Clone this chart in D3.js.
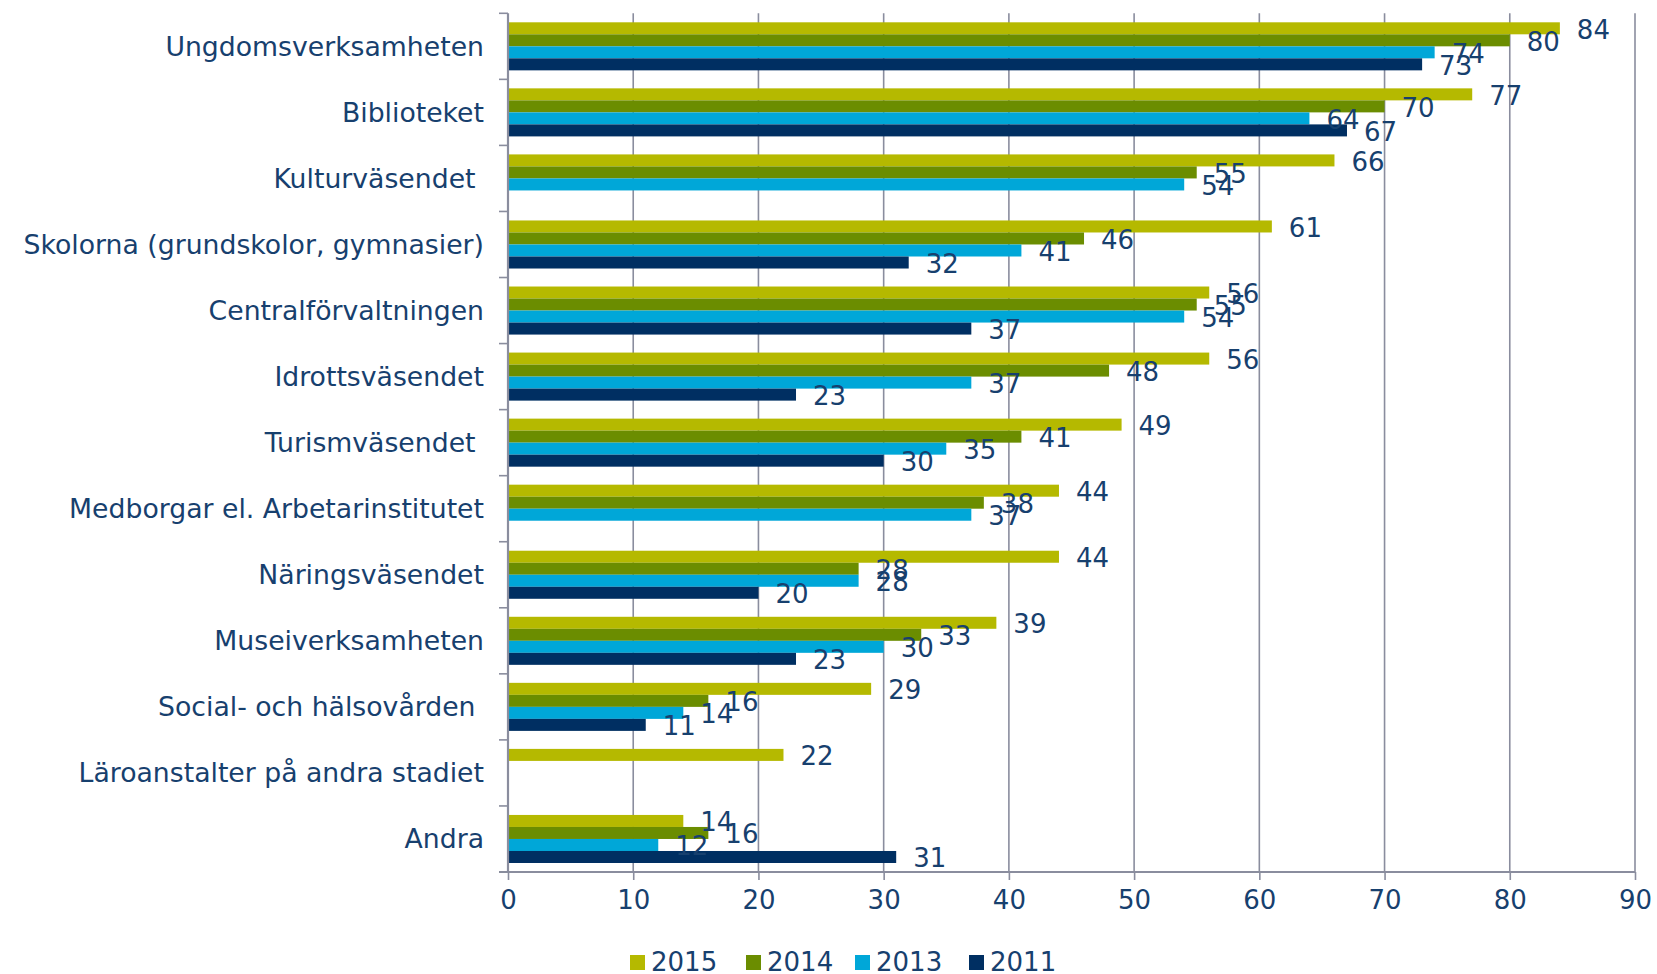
<!DOCTYPE html>
<html>
<head>
<meta charset="utf-8">
<script src="https://cdn.jsdelivr.net/npm/d3@7/dist/d3.min.js"></script>
<style>
  html, body { margin: 0; padding: 0; background: #ffffff; }
  svg { display: block; }
  text { font-family: "DejaVu Sans", Verdana, sans-serif; fill: #17406e; }
</style>
</head>
<body>
<svg id="chart" width="1657" height="974"></svg>
<script>
const categories = [
  "Ungdomsverksamheten",
  "Biblioteket",
  "Kulturväsendet ",
  "Skolorna (grundskolor, gymnasier)",
  "Centralförvaltningen",
  "Idrottsväsendet",
  "Turismväsendet ",
  "Medborgar el. Arbetarinstitutet",
  "Näringsväsendet",
  "Museiverksamheten",
  "Social- och hälsovården ",
  "Läroanstalter på andra stadiet",
  "Andra"
];
const years = ["2015", "2014", "2013", "2011"];
const values2015 = [84, 77, 66, 61, 56, 56, 49, 44, 44, 39, 29, 22, 14];
const values2014 = [80, 70, 55, 46, 55, 48, 41, 38, 28, 33, 16, null, 16];
const values2013 = [74, 64, 54, 41, 54, 37, 35, 37, 28, 30, 14, null, 12];
const values2011 = [73, 67, null, 32, 37, 23, 30, null, 20, 23, 11, null, 31];
const xTicks = [0, 10, 20, 30, 40, 50, 60, 70, 80, 90];
const colors = ["#b5b900", "#6b8d00", "#00a7d8", "#002f62"];

const seriesValues = [values2015, values2014, values2013, values2011];

const svg = d3.select("#chart");
const mLeft = 508, mRight = 1635, mTop = 13.3, mBottom = 872;

const x = d3.scaleLinear().domain([0, 90]).range([mLeft, mRight]);
const y0 = d3.scaleBand().domain(categories).range([mTop, mBottom]).padding(0);
const groupPad = 9;
const y1 = d3.scaleBand().domain(years).range([groupPad, y0.bandwidth() - groupPad]).padding(0);

const gridColor = "#8a8d9e";

// vertical gridlines
svg.append("g")
  .selectAll("line")
  .data(xTicks.filter(d => d > 0))
  .join("line")
  .attr("x1", d => x(d)).attr("x2", d => x(d))
  .attr("y1", mTop).attr("y2", mBottom)
  .attr("stroke", gridColor).attr("stroke-width", 1.6);

// bars
const groups = svg.append("g")
  .selectAll("g")
  .data(categories.map((c, i) => ({ c, i })))
  .join("g")
  .attr("transform", d => `translate(0,${y0(d.c)})`);

groups.selectAll("rect")
  .data(d => years.map((yr, k) => ({ yr, k, v: seriesValues[k][d.i] })).filter(e => e.v !== null))
  .join("rect")
  .attr("x", x(0))
  .attr("y", e => y1(e.yr))
  .attr("width", e => x(e.v) - x(0))
  .attr("height", y1.bandwidth())
  .attr("fill", e => colors[e.k]);

groups.selectAll("text")
  .data(d => years.map((yr, k) => ({ yr, k, v: seriesValues[k][d.i] })).filter(e => e.v !== null))
  .join("text")
  .attr("x", e => x(e.v) + 17)
  .attr("y", e => y1(e.yr) + y1.bandwidth() / 2 + 10.5)
  .attr("font-size", 26)
  .text(e => e.v);

// x axis
const xAxis = d3.axisBottom(x).tickValues(xTicks).tickSize(8).tickPadding(10).tickFormat(d3.format("d"));
const gx = svg.append("g").attr("transform", `translate(0,${mBottom})`).call(xAxis);
gx.select(".domain").attr("stroke", gridColor).attr("stroke-width", 2.2).attr("d", `M${mLeft - 9},0H${mRight}`);
gx.selectAll(".tick line").attr("stroke", gridColor).attr("stroke-width", 1.6);
gx.selectAll(".tick text")
  .attr("font-size", 26)
  .attr("font-family", '"DejaVu Sans", Verdana, sans-serif')
  .attr("fill", "#17406e")
  .attr("dy", "0.72em");

// y axis: line and ticks at band boundaries
const boundaries = categories.map(c => y0(c)).concat([mBottom]);
svg.append("line")
  .attr("x1", mLeft).attr("x2", mLeft).attr("y1", mTop).attr("y2", mBottom)
  .attr("stroke", gridColor).attr("stroke-width", 2.2);
svg.append("g").selectAll("line").data(boundaries).join("line")
  .attr("x1", mLeft - 9).attr("x2", mLeft)
  .attr("y1", d => d).attr("y2", d => d)
  .attr("stroke", gridColor).attr("stroke-width", 1.6);

// category labels
svg.append("g").selectAll("text").data(categories).join("text")
  .attr("x", mLeft - 24)
  .attr("y", c => y0(c) + y0.bandwidth() / 2 + 9.5)
  .attr("text-anchor", "end")
  .attr("font-size", 26.7)
  .style("white-space", "pre")
  .text(c => c);

// legend
const legendX = [630, 746, 855, 969];
const legend = svg.append("g").selectAll("g").data(years).join("g")
  .attr("transform", (d, i) => `translate(${legendX[i]},955)`);
legend.append("rect").attr("width", 15).attr("height", 15).attr("fill", (d, i) => colors[i]);
legend.append("text").attr("x", 21).attr("y", 15.5).attr("font-size", 26).text(d => d);
</script>
</body>
</html>
